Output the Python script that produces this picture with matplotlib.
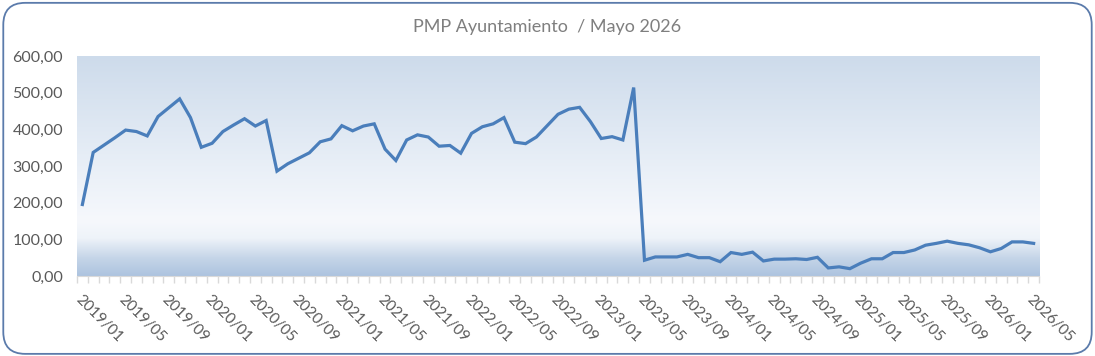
import matplotlib.pyplot as plt
import numpy as np
from matplotlib.colors import LinearSegmentedColormap
from matplotlib.patches import FancyBboxPatch

plt.rcParams['font.family'] = ['Lato', 'DejaVu Sans']

# monthly PMP values, 2019/01 .. 2026/05
years = list(range(2019, 2027))
months = [f"{y}/{m:02d}" for y in years for m in range(1, 13)][:89]
pmp = [195, 337, 357, 377, 398, 394, 382, 435, 459, 483, 432, 351,
       362, 394, 412, 429, 409, 424, 286, 306, 321, 336, 366, 374,
       410, 396, 409, 415, 346, 315, 371, 385, 379, 354, 356, 335,
       389, 407, 415, 432, 365, 361, 379, 410, 441, 455, 460, 421,
       375, 380, 371, 514, 43, 52, 52, 52, 59, 50, 50, 39,
       64, 59, 65, 41, 46, 46, 47, 45, 51, 22, 25, 20,
       35, 47, 47, 64, 64, 71, 84, 89, 95, 89, 85, 77,
       66, 75, 93, 93, 89]
y_ticks = [0, 100, 200, 300, 400, 500, 600]

fig = plt.figure(figsize=(10.95, 3.56), dpi=100)
fig.patch.set_facecolor('white')

# rounded outer frame
frame = FancyBboxPatch((0.003, 0.006), 0.994, 0.986, boxstyle="round,pad=0,rounding_size=0.02",
                       transform=fig.transFigure, facecolor='none', edgecolor='#5b7bab', linewidth=1.3,
                       mutation_aspect=1095/356)
fig.patches.append(frame)

ax = fig.add_axes([0.0703, 0.2247, 0.8786, 0.618])
n = len(pmp)
x = np.arange(n)

# background gradient like Excel plot area
cmap = LinearSegmentedColormap.from_list('bg', [(0.0, '#adc3df'), (0.08, '#c5d5e8'), (0.17, '#eef3f9'),
                                                (0.25, '#f6f8fc'), (0.55, '#e6edf6'), (1.0, '#cddbeb')])
grad = np.linspace(0, 1, 256).reshape(-1, 1)
ax.imshow(grad, aspect='auto', cmap=cmap, origin='lower', extent=[-0.5, n - 0.5, 0, 600], zorder=0)

ax.plot(x, pmp, color='#4a7ebb', linewidth=2.3, solid_joinstyle='miter', zorder=3)

ax.set_xlim(-0.5, n - 0.5)
ax.set_ylim(0, 600)
ax.set_yticks(y_ticks)
ax.set_yticklabels([f"{v:.2f}".replace('.', ',') for v in y_ticks], fontsize=11.5, color='#595959')
ax.tick_params(axis='y', length=0, pad=10)

# major ticks at category boundaries, labels every 4 months
ax.set_xticks(np.arange(-0.5, n, 1.0))
ax.set_xticklabels([])
ax.set_xticks(x[::4], minor=True)
ax.set_xticklabels(months[::4], minor=True, rotation=-45, ha='left', va='top',
                   rotation_mode='anchor', fontsize=11, color='#595959')
ax.tick_params(axis='x', which='major', length=5, color='#d9d9d9', width=1)
ax.tick_params(axis='x', which='minor', length=0, pad=12)

for s in ['top', 'right', 'left']:
    ax.spines[s].set_visible(False)
ax.spines['bottom'].set_color('#d9d9d9')

fig.text(0.5, 0.925, "PMP Ayuntamiento  / Mayo 2026", ha='center', va='center',
         fontsize=13, color='#7f7f7f')

fig.savefig('out.png', dpi=100)
